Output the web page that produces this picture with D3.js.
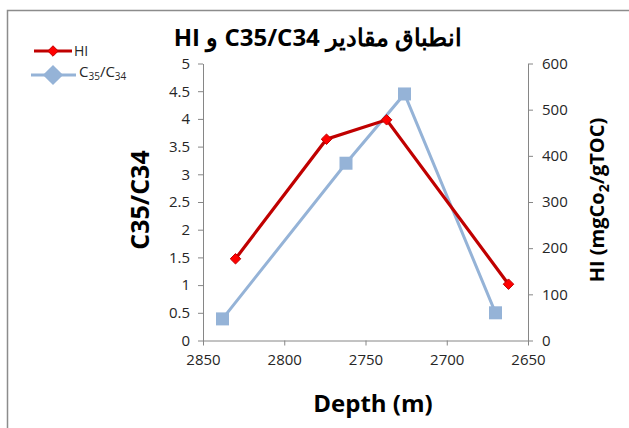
<!DOCTYPE html>
<html>
<head>
<meta charset="utf-8">
<script src="https://cdn.jsdelivr.net/npm/d3@7"></script>
<style>
body { margin: 0; background: #fff; }
text { font-family: "Open Sans", "Noto Sans", sans-serif; }
</style>
</head>
<body>
<div id="chart"></div>
<script>
const width = 629;
const height = 428;

// data
const hiDepth = [2830, 2774, 2737, 2662];
const hiValues = [177, 436, 478, 122];
const ratioDepth = [2838, 2762, 2726, 2670];
const ratioValues = [0.39, 3.2, 4.45, 0.5];
const xTicks = [2850, 2800, 2750, 2700, 2650];
const leftTicks = [0, 0.5, 1, 1.5, 2, 2.5, 3, 3.5, 4, 4.5, 5];
const rightTicks = [0, 100, 200, 300, 400, 500, 600];

const plotLeft = 203, plotRight = 528, plotTop = 63.5, plotBottom = 340.5;

let svg = d3.select("#chart").append("svg")
    .attr("width", width)
    .attr("height", height);

// outer frame (only top + left visible)
svg.append("path")
    .attr("d", `M7.5,${height} V10.5 H${width}`)
    .attr("fill", "none")
    .attr("stroke", "#8c8c8c")
    .attr("stroke-width", 1.5);

let xScale = d3.scaleLinear().domain([2850, 2650]).range([plotLeft, plotRight]);
let yLeft = d3.scaleLinear().domain([0, 5]).range([plotBottom, plotTop]);
let yRight = d3.scaleLinear().domain([0, 600]).range([plotBottom, plotTop]);

function styleAxis(g) {
    g.selectAll("path, line").attr("stroke", "#868686");
    g.selectAll("text")
        .style("font-size", "15px")
        .attr("fill", "#262626");
}

svg.append("g")
    .attr("transform", `translate(0,${plotBottom})`)
    .call(d3.axisBottom(xScale).tickValues(xTicks).tickSize(5).tickSizeOuter(0).tickPadding(9).tickFormat(d3.format("d")))
    .call(styleAxis);

svg.append("g")
    .attr("transform", `translate(${plotLeft},0)`)
    .call(d3.axisLeft(yLeft).tickValues(leftTicks).tickSize(5).tickSizeOuter(0).tickPadding(8).tickFormat(d3.format("")))
    .call(styleAxis);

svg.append("g")
    .attr("transform", `translate(${plotRight},0)`)
    .call(d3.axisRight(yRight).tickValues(rightTicks).tickSize(5).tickSizeOuter(0).tickPadding(9))
    .call(styleAxis);

// series lines
let ratioData = ratioDepth.map((d, i) => ({ x: d, y: ratioValues[i] }));
let hiData = hiDepth.map((d, i) => ({ x: d, y: hiValues[i] }));

svg.append("path")
    .datum(ratioData)
    .attr("fill", "none")
    .attr("stroke", "#95b3d7")
    .attr("stroke-width", 3)
    .attr("d", d3.line().x(d => xScale(d.x)).y(d => yLeft(d.y)));

svg.append("path")
    .datum(hiData)
    .attr("fill", "none")
    .attr("stroke", "#c00000")
    .attr("stroke-width", 3.2)
    .attr("d", d3.line().x(d => xScale(d.x)).y(d => yRight(d.y)));

svg.selectAll(".sq")
    .data(ratioData)
    .enter()
    .append("rect")
    .attr("class", "sq")
    .attr("x", d => xScale(d.x) - 6.5)
    .attr("y", d => yLeft(d.y) - 6.5)
    .attr("width", 13)
    .attr("height", 13)
    .attr("fill", "#95b3d7");

let diamond = d3.symbol().type(d3.symbolDiamond2).size(70);
svg.selectAll(".dm")
    .data(hiData)
    .enter()
    .append("path")
    .attr("class", "dm")
    .attr("d", diamond)
    .attr("transform", d => `translate(${xScale(d.x)},${yRight(d.y)})`)
    .attr("fill", "#ff0000")
    .attr("stroke", "#c00000")
    .attr("stroke-width", 1);

// titles
svg.append("text")
    .attr("x", 318)
    .attr("y", 46)
    .attr("direction", "rtl")
    .attr("text-anchor", "middle")
    .style("font-size", "24px")
    .style("font-weight", "bold")
    .attr("fill", "#000")
    .text("انطباق مقادیر  C35/C34 و HI");

svg.append("text")
    .attr("transform", "translate(149,200) rotate(-90)")
    .attr("text-anchor", "middle")
    .style("font-size", "25px")
    .style("font-weight", "bold")
    .attr("fill", "#000")
    .text("C35/C34");

let rt = svg.append("text")
    .attr("transform", "translate(604,200) rotate(-90)")
    .attr("text-anchor", "middle")
    .style("font-size", "20px")
    .style("font-weight", "bold")
    .attr("fill", "#000");
rt.append("tspan").text("HI (mgCo");
rt.append("tspan").attr("dy", 5).style("font-size", "14px").text("2");
rt.append("tspan").attr("dy", -5).text("/gTOC)");

svg.append("text")
    .attr("x", 373)
    .attr("y", 412)
    .attr("text-anchor", "middle")
    .style("font-size", "24px")
    .style("font-weight", "bold")
    .attr("fill", "#000")
    .text("Depth (m)");

// legend
let lg = svg.append("g");
lg.append("line").attr("x1", 34).attr("x2", 72).attr("y1", 51).attr("y2", 51)
    .attr("stroke", "#c00000").attr("stroke-width", 3);
lg.append("path").attr("d", diamond)
    .attr("transform", "translate(53,51)")
    .attr("fill", "#ff0000").attr("stroke", "#c00000");
lg.append("text").attr("x", 74).attr("y", 56)
    .style("font-size", "14px").attr("fill", "#262626").text("HI");

lg.append("line").attr("x1", 31).attr("x2", 76).attr("y1", 75).attr("y2", 75)
    .attr("stroke", "#95b3d7").attr("stroke-width", 3);
lg.append("path").attr("d", d3.symbol().type(d3.symbolDiamond2).size(260))
    .attr("transform", "translate(53,75)")
    .attr("fill", "#95b3d7");
let lt = lg.append("text").attr("x", 79).attr("y", 77)
    .style("font-size", "15px").attr("fill", "#262626");
lt.append("tspan").text("C");
lt.append("tspan").attr("dy", 3).style("font-size", "10px").text("35");
lt.append("tspan").attr("dy", -3).text("/C");
lt.append("tspan").attr("dy", 3).style("font-size", "10px").text("34");
</script>
</body>
</html>
